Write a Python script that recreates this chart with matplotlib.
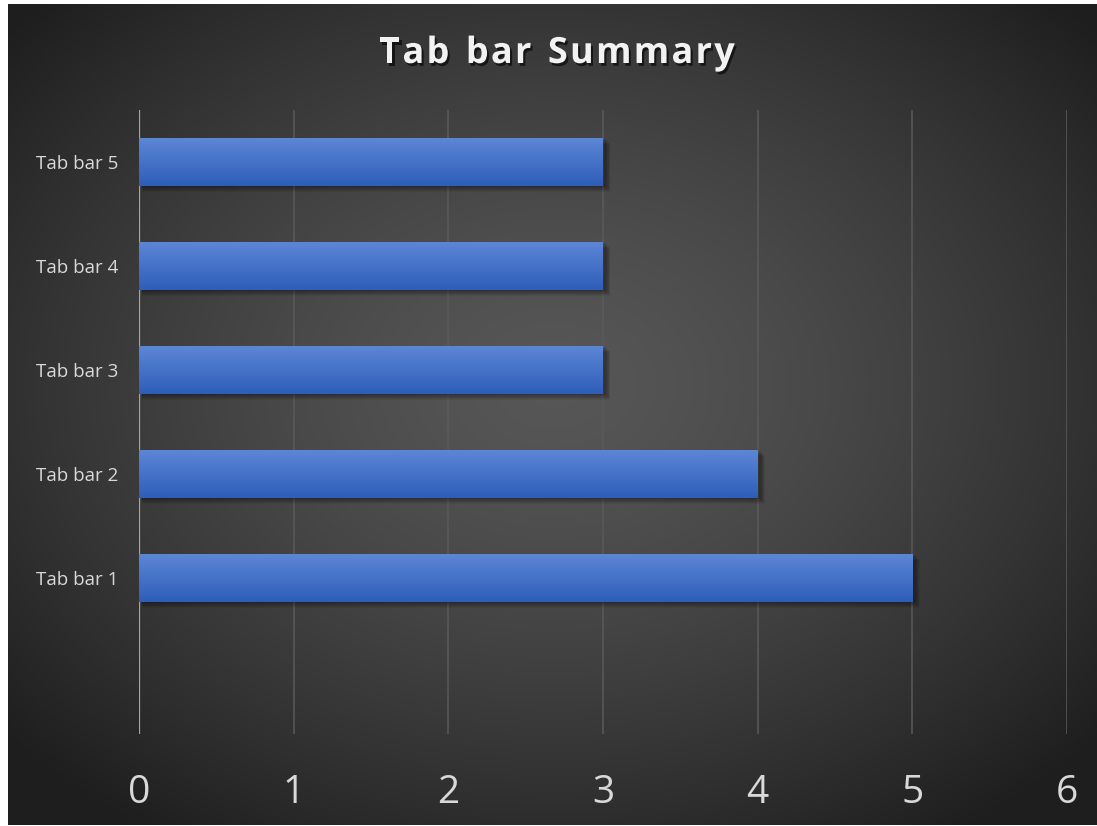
import matplotlib.pyplot as plt
import matplotlib.patheffects as pe
from matplotlib.patches import Rectangle
import numpy as np

categories = ["Tab bar 1", "Tab bar 2", "Tab bar 3", "Tab bar 4", "Tab bar 5"]
values = [5, 4, 3, 3, 3]
x_ticks = [0, 1, 2, 3, 4, 5, 6]
title = "Tab bar Summary"

plt.rcParams['font.family'] = ['Open Sans', 'DejaVu Sans']

W, H = 1097, 826
fig = plt.figure(figsize=(W / 100, H / 100), dpi=100, facecolor='white')

# dark radial background panel
bg = fig.add_axes([8 / W, 1 / H, (W - 8) / W, (H - 5) / H])
bg.set_axis_off()
yy, xx = np.mgrid[0:400, 0:540]
r = np.hypot((xx - 270) / 270.0, (yy - 185) / 200.0)
shade = np.clip(0.34 - 0.15 * r ** 1.4, 0.12, 0.35)
bg.imshow(np.dstack([shade, shade, shade]), aspect='auto', extent=[0, 1, 0, 1],
          interpolation='bilinear')
bg.set_xlim(0, 1)
bg.set_ylim(0, 1)

# plot area
left, right = 139 / W, 1067 / W
top, bottom = 1 - 110 / H, 1 - 734 / H
ax = fig.add_axes([left, bottom, right - left, top - bottom])
ax.patch.set_alpha(0)
pos = np.arange(len(categories))

for x in x_ticks[1:]:
    ax.axvline(x, color='#5a5a5a', lw=1.1, zorder=0)
ax.axvline(0, color='#a6a6a6', lw=1.6, zorder=1)

bar_h = 0.46
grad = np.linspace(0, 1, 64)[:, None]
top_c = np.array([0x5d, 0x86, 0xd5]) / 255
bot_c = np.array([0x2e, 0x5e, 0xba]) / 255
img = top_c * (1 - grad[..., None]) + bot_c * grad[..., None]
img = np.repeat(img, 2, axis=1)

bars = ax.barh(pos, values, height=bar_h, color='none', zorder=3)
for b, v, p in zip(bars, values, pos):
    # soft drop shadow
    for k in range(8):
        off = 0.008 + k * 0.007
        ax.add_patch(Rectangle((0.02, p - bar_h / 2 - off), v + 0.004 * k, bar_h,
                               color='black', alpha=0.05, lw=0, zorder=2))
    im = ax.imshow(img, extent=[0, v, p - bar_h / 2, p + bar_h / 2],
                   aspect='auto', zorder=3, interpolation='bilinear')
    im.set_clip_path(b)
ax.set_xlim(0, 6)
ax.set_ylim(-1.5, 4.5)

ax.set_yticks(pos)
ax.set_yticklabels(categories, fontsize=13.5, color='#d9d9d9')
ax.set_xticks(x_ticks)
ax.set_xticklabels([str(t) for t in x_ticks], fontsize=28, color='#d9d9d9')
ax.tick_params(axis='both', length=0)
ax.tick_params(axis='x', pad=29)
ax.tick_params(axis='y', pad=15)
for s in ax.spines.values():
    s.set_visible(False)

# title with wide letter spacing, laid out one glyph at a time
renderer = fig.canvas.get_renderer()
shadow = [pe.withSimplePatchShadow(offset=(1.5, -2), shadow_rgbFace='black', alpha=0.6)]
tracking = 2.2
widths = []
for ch in title:
    t = fig.text(0, 0, ch if ch != ' ' else 'a', fontsize=26, fontweight='bold')
    w = t.get_window_extent(renderer).width
    widths.append(w * (0.55 if ch == ' ' else 1.0))
    t.remove()
total = sum(widths) + tracking * (len(title) - 1)
x0 = 557 - total / 2
for ch, w in zip(title, widths):
    if ch != ' ':
        fig.text(x0 / W, 1 - 54 / H, ch, ha='left', va='center', fontsize=26,
                 fontweight='bold', color='#f2f2f2', path_effects=shadow)
    x0 += w + tracking

fig.savefig('out.png', dpi=100, facecolor='white')
